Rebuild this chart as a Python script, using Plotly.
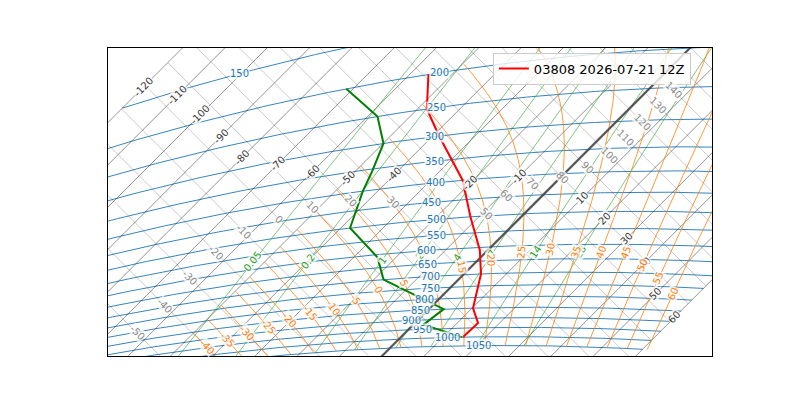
import numpy as np
import plotly.graph_objects as go

# sounding for station 03808 (hPa, degC)
station_label = "03808 2026-07-21 12Z"
t_pressure = [1000, 925, 850, 700, 610, 500, 400, 355, 300, 250, 200]
temperature = [14.7, 14.9, 10.2, 4.0, -1.9, -12.0, -22.5, -29.3, -38.5, -47.8, -55.6]
td_pressure = [1000, 925, 850, 700, 610, 500, 400, 355, 300, 250, 200]
dewpoint = [14.4, 2.4, 3.5, -17.7, -24.4, -37.8, -43.5, -46.0, -49.9, -57.7, -71.6]

# isopleths of the tephigram
isotherms = list(range(-120, 61, 10))
dry_adiabats = list(range(-60, 171, 10))
isobars = list(range(1050, 149, -50))
wet_adiabats = list(range(-40, 61, 5))
mixing_ratios = [0.05, 0.2, 1, 2, 4, 7, 14, 28]

# where each label sits on its line
isotherm_label_theta = {-120: -0.5, -110: 5.1, -100: 5.6, -90: 5.4, -80: 5.4, -70: 12.0,
                        -60: 17.8, -50: 24.6, -40: 36.8, -20: 53.9, -10: 68.4, 10: 80.0,
                        20: 80.4, 30: 81.0, 40: 79.0, 50: 73.7, 60: 72.6}
dry_label_t = {-50: -63.4, -40: -63.4, -30: -64.1, -20: -63.8, -10: -62.2, 0: -56.7,
               10: -51.5, 20: -44.2, 30: -33.6, 50: -9.0, 60: -8.5, 70: -5.2, 80: 0.5,
               90: 4.0, 100: 6.4, 110: 5.9, 120: 6.4, 130: 6.1, 140: 5.9}
isobar_label_t = {1050: 20.3, 1000: 11.1, 950: 3.3, 900: -1.4, 850: -1.7, 800: -3.3,
                  750: -4.5, 700: -7.3, 650: -11.1, 600: -14.4, 550: -15.6, 500: -19.4,
                  450: -24.6, 400: -28.4, 350: -33.6, 300: -39.5, 250: -45.9, 200: -53.4,
                  150: -100.5}
wet_label_p = {-40: 945, -35: 919, -30: 895, -25: 874, -20: 849, -15: 823, -10: 809,
               -5: 780, 0: 743, 5: 721, 10: 695, 15: 669, 20: 648, 25: 622, 30: 614,
               35: 626, 40: 626, 45: 626, 50: 670, 55: 717, 60: 775}
mixing_label_p = {0.05: 571, 0.2: 597, 1: 622, 2: 621, 4: 631, 7: 625, 14: 622, 28: 625}

T_MIN, T_MAX = -120, 60
KAPPA = 0.286


def tephi_xy(t, theta):
    # rotate (temperature, entropy) by 45 degrees
    a = 4.23 * np.asarray(t, float)
    b = 1265.0 * np.log(np.asarray(theta, float) + 273.15)
    return (a + b) / 2, (b - a) / 2


def theta_of(t, p):
    return (np.asarray(t, float) + 273.15) * (1000.0 / np.asarray(p, float)) ** KAPPA - 273.15


def tp_xy(t, p):
    return tephi_xy(t, theta_of(t, p))


def moist_curve(thw, p_top=100.0, p_bot=1050.0, dp=2.0):
    def dtdp(p, t):
        es = 6.112 * np.exp(17.67 * (t - 273.15) / (t - 29.65))
        rs = 0.622 * es / (p - es)
        return (287.04 * t + 2.501e6 * rs) / (p * (1005.7 + 2.501e6 ** 2 * rs * 0.622 / (287.04 * t * t)))

    def run(p_end, step):
        p, t = 1000.0, thw + 273.15
        ps, ts = [p], [t]
        while (step < 0 and p > p_end) or (step > 0 and p < p_end):
            k1 = dtdp(p, t)
            k2 = dtdp(p + step / 2, t + step / 2 * k1)
            k3 = dtdp(p + step / 2, t + step / 2 * k2)
            k4 = dtdp(p + step, t + step * k3)
            t += step * (k1 + 2 * k2 + 2 * k3 + k4) / 6
            p += step
            ps.append(p)
            ts.append(t)
        return ps, ts

    pu, tu = run(p_top, -dp)
    pd_, td_ = run(p_bot, dp)
    p = np.array(pd_[::-1] + pu[1:])
    t = np.array(td_[::-1] + tu[1:]) - 273.15
    keep = t >= -50
    return p[keep], t[keep]


def mixing_t(w, p):
    e = w * np.asarray(p, float) / (622.0 + w)
    lg = np.log(e / 6.112)
    return 243.5 * lg / (17.67 - lg)


def text_angle(x0, y0, x1, y1):
    ang = np.degrees(np.arctan2(y1 - y0, x1 - x0))
    if ang > 90:
        ang -= 180
    if ang <= -90:
        ang += 180
    return -ang


fig = go.Figure()
annotations = []


def add_line(x, y, color, width):
    fig.add_trace(go.Scatter(x=x, y=y, mode="lines", line=dict(color=color, width=width),
                             hoverinfo="skip", showlegend=False))


def add_label(x, y, text, color, angle=0):
    annotations.append(dict(x=float(x), y=float(y), xref="x", yref="y", text=text,
                            showarrow=False, textangle=float(angle), xanchor="center",
                            yanchor="middle", bgcolor="rgba(255,255,255,0.75)", borderpad=0,
                            font=dict(family="DejaVu Sans", size=10, color=color)))


# isobars
tt = np.linspace(T_MIN, T_MAX, 181)
for p in isobars:
    x, y = tp_xy(tt, p)
    add_line(x, y, "#1f77b4", 0.9)

# dry adiabats
for th in dry_adiabats:
    x, y = tephi_xy([T_MIN, T_MAX], [th, th])
    add_line(x, y, "rgba(60,60,60,0.35)", 0.8)

# isotherms
for t in isotherms:
    x, y = tephi_xy([t, t], [-100, 230])
    add_line(x, y, "rgba(30,30,30,0.6)", 0.8)

# saturated mixing ratio lines
pp = np.linspace(1050, 100, 191)
for w in mixing_ratios:
    x, y = tp_xy(mixing_t(w, pp), pp)
    add_line(x, y, "#2ca02c", 0.6)

# saturated (wet) adiabats
wet_curves = {}
for thw in wet_adiabats:
    p, t = moist_curve(thw)
    wet_curves[thw] = (p, t)
    x, y = tp_xy(t, p)
    add_line(x, y, "#ff7f0e", 0.8)

# freezing isotherm
x, y = tephi_xy([0, 0], [-100, 230])
add_line(x, y, "rgba(70,70,70,0.85)", 2.3)

# profiles
x, y = tp_xy(temperature, t_pressure)
fig.add_trace(go.Scatter(x=x, y=y, mode="lines", line=dict(color="red", width=2),
                         name=station_label, hoverinfo="skip"))
x, y = tp_xy(dewpoint, td_pressure)
fig.add_trace(go.Scatter(x=x, y=y, mode="lines", line=dict(color="green", width=2),
                         showlegend=False, hoverinfo="skip"))

# labels
for t, th in isotherm_label_theta.items():
    x, y = tephi_xy(t, th)
    add_label(x, y, str(t), "#3a3a3a", -45)

for th, t in dry_label_t.items():
    x, y = tephi_xy(t, th)
    add_label(x, y, str(th), "#8a8a8a", 45)

for w, p in mixing_label_p.items():
    x0, y0 = tp_xy(mixing_t(w, p + 5), p + 5)
    x1, y1 = tp_xy(mixing_t(w, p - 5), p - 5)
    x, y = tp_xy(mixing_t(w, p), p)
    add_label(x, y, f"{w:g}", "#2ca02c", text_angle(x0, y0, x1, y1))

for thw, p in wet_label_p.items():
    cp, ct = wet_curves[thw]
    order = np.argsort(cp)
    t_at = lambda q: np.interp(q, cp[order], ct[order])
    x0, y0 = tp_xy(t_at(p + 5), p + 5)
    x1, y1 = tp_xy(t_at(p - 5), p - 5)
    x, y = tp_xy(t_at(p), p)
    add_label(x, y, str(thw), "#ff7f0e", text_angle(x0, y0, x1, y1))

for p, t in isobar_label_t.items():
    x, y = tp_xy(t, p)
    add_label(x, y, str(p), "#1f77b4", 0)

axis = dict(showgrid=False, zeroline=False, showticklabels=False, ticks="",
            showline=True, mirror=True, linecolor="black", linewidth=1, fixedrange=True)
# the page body adds an 8px offset, so margins are trimmed to land the frame at (108, 48)
fig.update_layout(
    width=800, height=400,
    margin=dict(l=100, r=96, t=40, b=52),
    paper_bgcolor="white", plot_bgcolor="white",
    xaxis=dict(range=[3257.5, 3861.5], **axis),
    yaxis=dict(range=[3531.5, 3839.5], **axis),
    annotations=annotations,
    legend=dict(x=0.965, y=0.985, xanchor="right", yanchor="top", itemwidth=30,
                bgcolor="rgba(255,255,255,0.8)", bordercolor="#cccccc", borderwidth=1,
                font=dict(family="DejaVu Sans", size=13, color="black")),
    font=dict(family="DejaVu Sans"),
)

fig.write_html("out.html")
